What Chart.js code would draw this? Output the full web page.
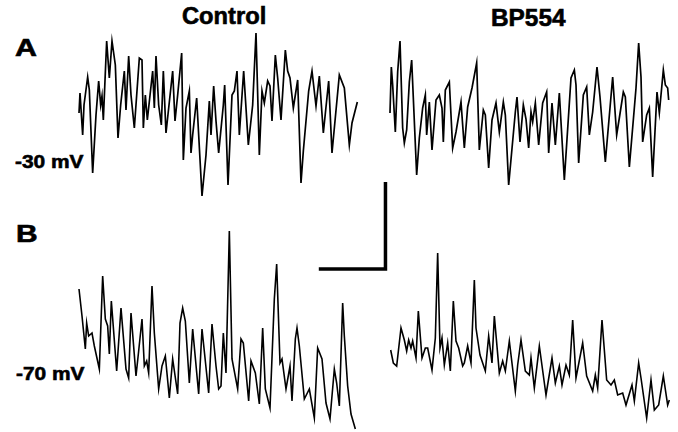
<!DOCTYPE html>
<html lang="en">
<head>
<meta charset="UTF-8">
<title>Control vs BP554 membrane potential</title>
<script src="https://cdn.jsdelivr.net/npm/chart.js"></script>
<style>
    html, body {
        margin: 0;
        padding: 0;
        background: #fff;
    }
    #figure {
        position: relative;
        width: 678px;
        height: 432px;
        overflow: hidden;
        background: #fff;
        font-family: "Liberation Sans", Arial, Helvetica, sans-serif;
        font-weight: bold;
        color: #000;
    }
    #figure canvas {
        position: absolute;
    }
    .lbl {
        position: absolute;
        line-height: 1;
        white-space: nowrap;
        transform-origin: 0 0;
        -webkit-text-stroke: 0.6px #000;
    }
</style>
</head>
<body>
<div id="figure">
    <div class="lbl" style="left:182px; top:5px; font-size:23px; transform:scaleX(1.03)">Control</div>
    <div class="lbl" style="left:491px; top:7px; font-size:23px; transform:scaleX(1.06)">BP554</div>
    <div class="lbl" style="left:15px; top:37px; font-size:23px; transform:scaleX(1.32)">A</div>
    <div class="lbl" style="left:16px; top:223px; font-size:23px; transform:scaleX(1.3)">B</div>
    <div class="lbl" style="left:15px; top:152px; font-size:19px; transform:scaleX(1.1)">-30 mV</div>
    <div class="lbl" style="left:16px; top:364px; font-size:19px; transform:scaleX(1.1)">-70 mV</div>

    <canvas id="trace-a-control" width="290" height="190"></canvas>
    <canvas id="trace-a-bp554" width="290" height="190"></canvas>
    <canvas id="trace-b-control" width="290" height="210"></canvas>
    <canvas id="trace-b-bp554" width="290" height="210"></canvas>
    <canvas id="scale-bar" width="95" height="110"></canvas>
</div>

<script>
    // A: held at -30 mV (time in ms, voltage in mV)
    const ctrlA_t = [0, 3, 11, 15, 26, 31, 41, 51, 59, 65, 69, 73, 83, 91, 99, 109, 117, 125, 136, 141,
        149, 156, 166, 181, 189, 193, 199, 205, 221, 226, 231, 239, 247, 253, 261, 281, 288, 296, 308, 313,
        321, 331, 336, 341, 353, 369, 381, 391, 396, 404, 411, 419, 433, 437, 447, 459, 466, 474, 481, 494,
        508, 521, 531, 541, 549, 556, 566, 573, 579, 589, 596, 606, 619, 626, 633, 643, 656, 666, 673, 689,
        699, 711, 721, 733, 749, 759, 781, 796, 811, 819, 835];
    const ctrlA_v = [-25.1, -23.1, -27.3, -24.3, -21.5, -22.8, -31.1, -25.3, -21.9, -24.3, -23.4, -25.8, -17.9, -21.6, -17.9, -20.3, -27.6, -24.3, -20.9, -24.8,
        -19.4, -23.3, -26.6, -19.6, -19.8, -26.6, -23.3, -25.8, -20.9, -24.6, -19.4, -24.3, -26.3, -20.9, -27.1, -20.9, -25.9, -23.3, -19.1, -29.8,
        -24.6, -22.9, -29.1, -27.3, -23.6, -33.4, -29.3, -23.9, -27.3, -22.4, -25.9, -29.1, -24.3, -22.3, -32.3, -23.3, -22.9, -20.9, -27.3, -20.9,
        -28.3, -24.3, -17.1, -29.3, -22.9, -24.1, -21.9, -22.4, -25.9, -19.3, -21.6, -25.8, -18.8, -20.9, -21.6, -24.6, -21.8, -32.1, -28.9, -22.9,
        -20.9, -24.4, -21.4, -27.1, -21.9, -29.1, -21.3, -22.6, -28.3, -26.1, -24.0];

    const bpA_t = [0, 4, 8, 16, 23, 30, 38, 43, 50, 58, 65, 80, 88, 98, 106, 110, 118, 126, 138, 148,
        156, 160, 166, 178, 188, 198, 213, 223, 233, 246, 260, 268, 280, 286, 296, 306, 318, 328, 340, 346,
        356, 376, 381, 390, 400, 408, 416, 423, 428, 436, 446, 458, 470, 476, 486, 496, 508, 523, 543, 553,
        558, 566, 580, 590, 598, 608, 621, 630, 646, 668, 680, 688, 700, 706, 718, 733, 738, 746, 753, 758,
        770, 778, 788, 801, 808, 820, 826, 833, 836];
    const bpA_v = [-25.1, -20.5, -22.3, -27.0, -21.0, -17.9, -26.6, -28.1, -26.8, -22.0, -19.8, -31.3, -27.6, -24.6, -23.3, -27.3, -24.0, -28.8, -23.8, -23.3,
        -24.6, -28.0, -22.8, -22.0, -28.6, -27.0, -24.0, -28.6, -24.5, -22.6, -20.1, -28.8, -24.8, -25.3, -30.6, -25.8, -24.1, -27.0, -24.0, -25.3,
        -32.3, -25.0, -23.5, -28.0, -24.3, -25.7, -28.6, -25.0, -26.0, -24.1, -28.3, -24.1, -23.0, -29.1, -24.1, -28.3, -23.1, -31.8, -21.6, -20.8,
        -22.3, -30.1, -23.3, -22.5, -27.3, -25.0, -20.5, -23.5, -30.0, -21.5, -27.3, -25.6, -23.0, -23.5, -30.5, -24.6, -22.6, -18.1, -21.5, -28.0,
        -25.3, -24.6, -31.5, -23.0, -25.1, -20.8, -22.3, -22.6, -23.8];

    // B: held at -70 mV
    const ctrlB_t = [0, 9, 19, 23, 29, 39, 46, 61, 71, 79, 86, 91, 97, 113, 126, 141, 149, 156, 171, 179,
        189, 196, 203, 209, 219, 226, 239, 249, 259, 271, 281, 296, 303, 311, 319, 331, 341, 359, 369, 389,
        399, 411, 419, 426, 433, 441, 451, 459, 476, 486, 493, 509, 516, 529, 541, 551, 559, 573, 586, 593,
        603, 609, 621, 633, 639, 649, 654, 661, 676, 691, 706, 716, 729, 741, 753, 766, 773, 781, 791, 796,
        806, 816, 829];
    const ctrlB_v = [-61.6, -64.3, -67.6, -65.0, -66.3, -66.0, -67.3, -69.6, -60.3, -64.6, -65.3, -68.1, -62.8, -69.8, -63.5, -69.6, -70.5, -64.0, -70.3, -67.8,
        -64.6, -69.3, -68.8, -70.0, -61.3, -66.0, -71.6, -69.3, -68.3, -72.5, -68.6, -72.1, -65.0, -63.5, -64.8, -71.0, -65.6, -72.1, -65.6, -72.0,
        -65.1, -69.3, -71.6, -71.3, -66.0, -70.0, -55.8, -68.6, -71.6, -66.6, -67.0, -72.8, -68.8, -70.0, -73.1, -65.5, -71.6, -73.5, -62.6, -59.1,
        -69.0, -68.6, -71.6, -69.3, -72.8, -66.6, -65.5, -67.3, -72.6, -71.6, -74.5, -67.5, -68.6, -73.0, -74.6, -69.6, -71.0, -73.3, -63.0, -66.3,
        -71.3, -74.1, -75.6];

    const bpB_t = [2, 10, 20, 33, 43, 50, 56, 63, 68, 78, 85, 96, 106, 113, 126, 136, 143, 150, 156, 163,
        173, 181, 190, 198, 206, 218, 223, 233, 243, 253, 258, 270, 286, 296, 306, 313, 328, 338, 346, 358,
        376, 383, 393, 406, 418, 423, 433, 448, 468, 486, 496, 508, 516, 528, 538, 548, 558, 578, 590, 608,
        616, 623, 636, 650, 663, 673, 683, 698, 708, 726, 733, 746, 753, 770, 783, 793, 806, 820, 833, 838];
    const bpB_v = [-67.7, -69.0, -69.3, -65.5, -66.7, -67.8, -66.7, -67.5, -66.8, -68.5, -63.8, -68.5, -67.5, -67.5, -69.7, -66.5, -58.0, -67.5, -66.5, -69.2,
        -67.0, -69.8, -62.8, -66.8, -67.5, -69.3, -69.0, -67.3, -69.0, -60.7, -65.5, -68.2, -69.8, -66.3, -69.0, -64.3, -70.0, -68.8, -69.8, -66.8,
        -71.8, -69.2, -66.7, -69.8, -70.2, -68.5, -71.5, -67.3, -72.2, -68.5, -71.0, -69.3, -71.2, -69.2, -70.2, -64.7, -70.5, -67.0, -70.3, -71.8,
        -70.2, -71.5, -64.7, -70.7, -71.2, -70.7, -72.2, -72.0, -73.2, -71.2, -72.8, -69.0, -70.5, -74.5, -70.7, -73.7, -73.2, -70.3, -73.2, -72.7];

    // scale bar lengths
    const scaleBarMs = 200;
    const scaleBarMv = 8.7;
    const scaleBar_t = [0, scaleBarMs, scaleBarMs];
    const scaleBar_v = [0, 0, scaleBarMv];

    // same ms/mV per pixel for every panel
    const PX_PER_MS = 1 / 3;
    const PX_PER_MV = 10;

    // box: where the canvas sits; x0 is the pixel of t = 0, yRef the pixel of vRef
    function drawTrace(id, times, volts, box, lineWidth) {
        const canvas = document.getElementById(id);
        canvas.style.left = box.left + 'px';
        canvas.style.top = box.top + 'px';

        const xMin = (box.left - box.x0) / PX_PER_MS;
        const xMax = xMin + canvas.width / PX_PER_MS;
        const yMax = box.vRef + (box.yRef - box.top) / PX_PER_MV;
        const yMin = yMax - canvas.height / PX_PER_MV;

        return new Chart(canvas, {
            type: 'scatter',
            data: {
                datasets: [{
                    data: times.map((t, i) => ({ x: t, y: volts[i] })),
                    showLine: true,
                    borderColor: '#000',
                    borderWidth: lineWidth,
                    borderJoinStyle: 'miter',
                    pointRadius: 0,
                    tension: 0,
                    fill: false
                }]
            },
            options: {
                responsive: false,
                animation: false,
                events: [],
                layout: { padding: 0 },
                plugins: {
                    legend: { display: false },
                    tooltip: { enabled: false }
                },
                scales: {
                    x: { type: 'linear', display: false, min: xMin, max: xMax },
                    y: { type: 'linear', display: false, min: yMin, max: yMax }
                }
            }
        });
    }

    drawTrace('trace-a-control', ctrlA_t, ctrlA_v, { left: 74, top: 20, x0: 79, yRef: 162, vRef: -30 }, 1.7);
    drawTrace('trace-a-bp554', bpA_t, bpA_v, { left: 385, top: 20, x0: 390, yRef: 162, vRef: -30 }, 1.7);
    drawTrace('trace-b-control', ctrlB_t, ctrlB_v, { left: 74, top: 222, x0: 79, yRef: 373, vRef: -70 }, 1.6);
    drawTrace('trace-b-bp554', bpB_t, bpB_v, { left: 385, top: 222, x0: 390, yRef: 373, vRef: -70 }, 1.6);
    drawTrace('scale-bar', scaleBar_t, scaleBar_v, { left: 305, top: 170, x0: 318.8, yRef: 269, vRef: 0 }, 3.5);
</script>
</body>
</html>
